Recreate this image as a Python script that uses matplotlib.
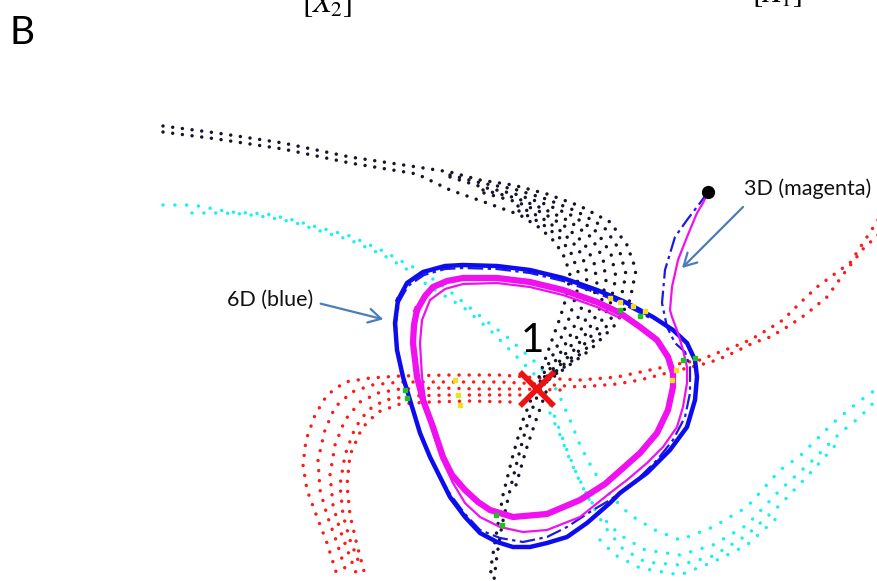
import matplotlib
matplotlib.use("Agg")
import matplotlib.pyplot as plt

plt.rcParams['font.family'] = ['Lato', 'DejaVu Sans']
plt.rcParams['mathtext.fontset'] = 'stix'

# ---- trajectory data (screen-space coordinates of the projected state) ----
# black sample cloud: strands of sampled points
black_strands = [
    [(163,126),(217,133),(283,143),(350,157),(417,167),(450,172),(480,180),(513,185),(547,194),(580,206),
     (610,222),(627,245),(636,270),(630,300),(615,325),(590,350),(560,372),(540,387)],
    [(163,132),(217,139),(283,149),(350,163),(417,174),(450,190),(487,203),(520,215),(540,228),(555,242),
     (565,258),(570,275),(567,295),(560,318),(552,340),(545,360),(539,377),(537,389)],
    [(450,175),(481,183),(514,189),(546,199),(576,211),(604,227),(619,249),(626,274),(620,303),(606,327),
     (584,351),(557,373),(540,387)],
    [(450,177),(482,187),(515,194),(545,204),(573,216),(597,232),(611,254),(616,277),(610,305),(597,329),
     (577,353),(554,373),(539,388)],
    [(483,190),(516,198),(544,209),(569,221),(591,237),(603,258),(606,281),(600,308),(588,331),(571,354),
     (551,374),(539,388)],
    [(484,193),(517,202),(543,213),(566,227),(584,243),(594,262),(597,284),(590,310),(579,334),(564,356),
     (548,375),(538,388)],
    [(518,206),(542,218),(562,232),(578,248),(586,266),(587,288),(580,313),(570,336),(558,357),(545,376),
     (538,388)],
    [(519,211),(541,223),(559,237),(571,253),(578,271),(577,291),(570,316),(561,338),(551,359),(542,377),
     (537,389)],
    [(540,389),(530,415),(520,450),(510,490),(502,525),(497,555),(494,580)],
    [(534,392),(523,420),(513,455),(503,495),(497,530),(492,560),(490,580)],
    [(546,392),(536,420),(526,450),(516,485)],
]

cyan_strands = [
    [(163,205),(193,205),(230,212),(267,214),(293,220),(317,227),(350,236),(383,251),(403,262),(423,272),
     (447,289),(480,316),(507,337),(533,360),(550,378),(560,397),(570,420),(580,445),(593,470),(610,495),
     (630,515),(655,530),(680,540),(713,527),(747,507),(780,470),(800,456),(833,423),(857,403),(878,388)],
    [(192,213),(222,213),(242,214),(267,217),(293,222),(317,230),(350,240),(383,255),(405,268),(430,287),
     (463,307),(490,330),(507,347),(523,363),(537,377),(548,400),(556,420),(565,445),(575,470),(587,495),
     (600,515),(620,535),(645,550),(680,555),(713,545),(747,525),(780,490),(813,460),(840,433),(860,417),(878,398)],
    [(550,413),(560,435),(570,460),(580,482),(592,505),(605,527),(622,548),(645,562),(680,565),(713,556),
     (747,535),(780,505),(813,470),(840,440)],
    [(600,540),(615,555),(640,568),(680,575),(713,562),(747,545),(780,515)],
]

red_strands = [
    [(878,220),(867,237),(850,263),(840,270),(817,287),(800,303),(783,320),(767,330),(750,340),(733,347),
     (717,353),(700,360),(683,363),(650,370),(617,377),(580,380),(540,378),(500,375),(450,375),(400,376),
     (370,378),(345,382),(327,395),(315,415),(306,440),(303,465),(307,490),(317,517),(327,543),(337,575)],
    [(878,235),(863,249),(845,272),(827,297),(805,315),(787,327),(770,337),(753,343),(735,352),(717,360),
     (700,365),(667,373),(640,380),(617,384),(580,387),(540,384),(500,382),(450,382),(400,382),(372,385),
     (352,392),(335,407),(325,430),(318,460),(320,490),(327,515),(337,543),(347,575)],
    [(560,390),(520,389),(480,389),(440,388),(400,389),(378,393),(360,402),(345,420),(335,445),(330,475),
     (333,505),(340,530),(350,557),(358,578)],
    [(530,395),(490,395),(450,395),(410,396),(385,400),(368,410),(355,428),(345,455),(340,485),(343,515),
     (350,540),(360,565)],
    [(510,402),(470,401),(430,402),(400,404),(378,412),(362,428),(350,455),(347,485),(350,515),(357,545),
     (365,575)],
]

# points of intersection with the Poincare-type sections
yellow_hits = [(610,298),(620,302),(633,306),(645,311),(455,380),(458,395),(460,405),(676,370),(672,380)]
green_hits = [(620,310),(640,316),(405,390),(407,398),(683,360),(695,358),(496,515),(502,525)]

# 6D reconstruction: limit cycle and transient from the initial point
blue_cycle = [(398,300),(407,283),(423,272),(445,266),(463,265),(497,266),(530,270),(563,278),(597,290),
              (623,301),(653,317),(673,330),(687,343),(695,360),(697,377),(695,400),(687,427),(670,450),
              (647,473),(620,493),(610,503),(587,523),(567,537),(547,543),(530,547),(513,547),(497,542),
              (480,533),(465,517),(450,497),(443,483),(430,457),(420,433),(410,400),(403,377),(397,350),
              (395,323),(398,300)]
blue_transient = [(708,192),(700,203),(687,220),(675,237),(665,270),(662,303),(667,327),(675,343),(685,352),
                  (690,367),(690,393),(685,417),(673,440),(657,460),(637,480),(610,500),(593,510),(567,527),
                  (547,537),(523,542),(500,538),(480,530),(465,514),(450,494),(441,478),(429,455),(419,430),
                  (409,398),(402,375),(397,348),(396,323),(399,302),(408,286),(424,275),(445,269),(463,268),
                  (497,269),(530,273),(563,281),(597,293),(623,304),(650,318)]

# 3D reconstruction: limit cycle and transient
magenta_cycle = [(417,310),(425,296),(433,287),(447,281),(463,278),(497,278),(530,282),(563,290),(597,302),
                 (620,313),(640,327),(657,340),(668,357),(673,373),(673,387),(668,410),(657,433),(640,453),
                 (622,469),(605,484),(580,500),(547,514),(513,517),(490,510),(478,502),(465,490),(452,475),
                 (443,457),(433,427),(423,400),(417,377),(413,343),(414,325),(417,310)]
magenta_transient = [(708,192),(703,203),(697,213),(687,237),(678,260),(672,287),(670,310),(672,317),(678,333),
                     (683,350),(687,367),(687,383),(683,407),(677,427),(663,447),(647,463),(627,480),(610,493),
                     (580,517),(547,530),(523,532),(500,527),(480,517),(465,503),(453,483),(441,457),(431,427),
                     (425,400),(422,377),(420,343),(422,320),(430,300),(445,289),(463,284),(497,283),(530,287),
                     (563,295),(597,307),(620,318)]

start_point = (708,192)
fixed_point = (537,389)

fig = plt.figure(figsize=(8.78, 5.81), dpi=100)
ax = fig.add_axes([0, 0, 1, 1])
ax.set_xlim(0, 878)
ax.set_ylim(581, 0)
ax.axis('off')

def dotted(strands, color, lw, gap):
    for s in strands:
        xs, ys = zip(*s)
        ax.plot(xs, ys, color=color, lw=lw, ls=(0, (0.01, gap)),
                dash_capstyle='round', zorder=2)

dotted(red_strands, '#ff1a1a', 2.5, 2.9)
dotted(cyan_strands, '#19f0f0', 2.5, 3.4)
dotted(black_strands, '#14142a', 2.5, 2.8)

xs, ys = zip(*blue_transient)
ax.plot(xs, ys, color='#1a1ae6', lw=1.6, ls=(0, (7, 2, 1.5, 2)), zorder=3)
xs, ys = zip(*blue_cycle)
ax.plot(xs, ys, color='#0c0cee', lw=3.2, zorder=3, solid_joinstyle='round')
xs, ys = zip(*magenta_cycle)
ax.plot(xs, ys, color='#f010f0', lw=4.5, zorder=4, solid_joinstyle='round')
xs, ys = zip(*magenta_transient)
ax.plot(xs, ys, color='#f010f0', lw=1.6, zorder=4, solid_joinstyle='round')

xs, ys = zip(*yellow_hits)
ax.plot(xs, ys, 's', color='#f0e020', ms=2.2, zorder=5, ls='none')
xs, ys = zip(*green_hits)
ax.plot(xs, ys, 's', color='#20c020', ms=2.2, zorder=5, ls='none')

ax.plot(*start_point, 'o', color='black', ms=8.5, zorder=6)
ax.plot(*fixed_point, 'x', color='#ee1111', ms=25, mew=4.0, zorder=6)
ax.text(532, 352, '1', fontsize=29, ha='center', va='baseline', color='black', zorder=7)

arrow_kw = dict(arrowstyle='->,head_length=0.9,head_width=0.5', color='#4a7ebb', lw=1.6)
ax.annotate('', xy=(386, 320), xytext=(318, 303), arrowprops=arrow_kw, zorder=7)
ax.annotate('', xy=(680, 270), xytext=(745, 205), arrowprops=arrow_kw, zorder=7)
ax.text(227, 300, '6D (blue)', fontsize=15.5, ha='left', va='center', color='#111111')
ax.text(744, 189, '3D (magenta)', fontsize=15.5, ha='left', va='center', color='#111111')

ax.text(10, 44, 'B', fontsize=28, ha='left', va='baseline', color='black')
ax.text(327, 12, r'$[X_2]$', fontsize=22, ha='center', va='baseline', color='black')
ax.text(777, 2, r'$[X_1]$', fontsize=22, ha='center', va='baseline', color='black')

fig.savefig('out.png', dpi=100)
